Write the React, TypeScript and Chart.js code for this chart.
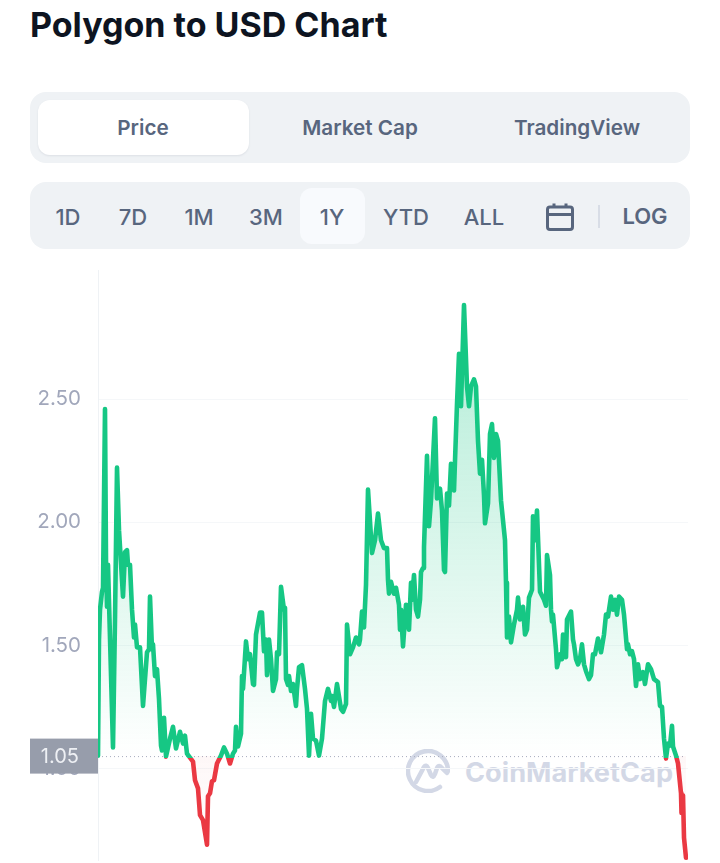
import React, { useEffect, useRef } from "react";
import { Chart, registerables } from "chart.js";

Chart.register(...registerables);

const TITLE = "Polygon to USD Chart";
const VIEW_TABS = ["Price", "Market Cap", "TradingView"];
const RANGE_TABS = ["1D", "7D", "1M", "3M", "1Y", "YTD", "ALL"];
const TICK_VALUES = [1, 1.5, 2, 2.5];
const BASE_PRICE = 1.05;
const WATERMARK = "CoinMarketCap";

// position along the one-year time axis (0–590)
const timeline = [
  0, 1, 2, 4, 5, 7, 8, 9, 10, 15, 17, 19, 21, 25, 27, 29, 30, 32, 34, 36, 37, 39, 42, 45, 49, 51, 52, 54, 55, 57, 59, 61, 63, 64, 66, 68, 72, 75, 78, 82, 85, 87, 89, 92,
  95, 97, 100, 102, 105, 109, 110, 112, 114, 116, 119, 121, 123, 126, 129, 132, 135, 137, 138, 140, 143, 144, 145, 148, 150, 152, 155, 156, 158, 162, 164, 166, 168, 169, 171, 173, 175, 178, 179, 181, 183, 186, 187, 188, 190, 191, 193, 195, 198, 199, 201, 204, 207, 209, 211, 213, 215, 218, 221, 224, 227, 230, 233, 234, 236, 239, 243, 245, 248, 249, 252, 255, 258, 261, 262, 264, 266, 268,
  270, 274, 277, 280, 283, 286, 289, 290, 291, 293, 296, 298, 301, 302, 303, 305, 308, 311, 313, 314, 316, 318, 320, 322, 323, 325, 326, 329, 331, 333, 337, 339, 342, 344, 346, 347, 349, 351, 353, 356, 357, 359, 361, 363, 366, 369, 371, 373, 376, 378, 380, 382, 384, 386, 387, 390, 392, 394, 396, 398, 400, 403, 407, 408, 409, 411, 413, 416, 419, 420, 422, 425, 427, 429, 431, 434, 435, 437, 439, 442, 446, 448, 449, 452, 453, 454, 455, 458, 459, 461, 462, 464, 465, 467, 468, 469, 473, 475, 476, 478, 480, 482, 484, 486, 488, 491, 493, 495, 497, 500, 503, 506, 508, 510, 513, 515, 517, 519, 521, 524, 526, 529, 530, 532, 534, 536, 538, 540, 542, 545, 547, 550, 553, 556, 560, 562, 564, 566, 568, 570, 572, 574, 575, 578, 580, 583, 583.5, 585, 586, 588,
];

const prices = [
  1.052, 1.524, 1.645, 1.718, 1.734, 2.46, 1.847, 1.657, 1.827, 1.085, 1.605, 2.222, 1.968, 1.698, 1.879, 1.887, 1.827, 1.827, 1.645, 1.532, 1.585, 1.492, 1.492, 1.254, 1.472, 1.484, 1.698, 1.484, 1.504, 1.375, 1.403, 1.282, 1.093, 1.073, 1.206, 1.048, 1.121, 1.169, 1.081, 1.149, 1.101, 1.133, 1.06, 1.044,
  1.028, 0.952, 0.919, 0.81, 0.79, 0.69, 0.887, 0.899, 0.948, 0.952, 1.02, 1.036, 1.052, 1.085, 1.06, 1.02, 1.06, 1.073, 1.169, 1.089, 1.141, 1.375, 1.323, 1.516, 1.444, 1.464, 1.343, 1.339, 1.544, 1.633, 1.633, 1.476, 1.524, 1.379, 1.524, 1.444, 1.315, 1.363, 1.472, 1.464, 1.738, 1.645, 1.653, 1.363, 1.339, 1.375, 1.315, 1.343, 1.254, 1.323, 1.411, 1.419, 1.323, 1.242, 1.052, 1.222, 1.121, 1.113, 1.052, 1.121, 1.274, 1.323, 1.274, 1.294, 1.25, 1.343, 1.242, 1.23, 1.262, 1.585, 1.464, 1.492, 1.532, 1.504, 1.524, 1.637, 1.573, 1.746,
  2.133, 1.875, 1.927, 2.036, 1.927, 1.895, 1.895, 1.766, 1.71, 1.758, 1.71, 1.734, 1.665, 1.564, 1.645, 1.496, 1.665, 1.564, 1.754, 1.685, 1.786, 1.645, 1.617, 1.685, 1.798, 1.814, 1.899, 2.27, 1.984, 2.089, 2.423, 2.097, 2.137, 2.048, 1.806, 1.798, 2.117, 2.068, 2.238, 2.129, 2.25, 2.48, 2.685, 2.472, 2.883, 2.552, 2.472, 2.552, 2.581, 2.552, 2.331, 2.198, 2.254, 2.109, 1.996, 2.077, 2.359, 2.399, 2.262, 2.359, 2.331, 2.089, 1.927, 1.754, 1.532, 1.617, 1.512, 1.585, 1.645, 1.694, 1.605, 1.657, 1.544, 1.564, 1.694, 1.726, 2.024, 1.927, 2.048, 1.718, 1.685, 1.661, 1.867, 1.786, 1.645, 1.597, 1.625, 1.484, 1.411, 1.444, 1.464, 1.444, 1.544, 1.464, 1.452, 1.605, 1.637, 1.524, 1.504, 1.444, 1.423, 1.444, 1.504, 1.423, 1.395, 1.363, 1.379, 1.464, 1.464, 1.528, 1.472, 1.544, 1.625, 1.617, 1.698, 1.645, 1.685, 1.625, 1.698, 1.685, 1.625, 1.484, 1.504, 1.464, 1.476, 1.444, 1.335, 1.423, 1.363, 1.391, 1.343, 1.423, 1.403, 1.363, 1.351, 1.254, 1.25, 1.121, 1.04, 1.101, 1.093, 1.173, 1.089, 1.052, 1.02, 0.899, 0.819, 0.891, 0.718, 0.637,
];

const GREEN = "#16c784";
const RED = "#ea3943";
const TAB_CENTERS = [68, 133, 199, 266, 332, 406, 484];
const VIEW_CENTERS = [143, 360, 577];

const overlays = {
  id: "baseOverlays",
  beforeDatasetsDraw(chart: any) {
    const { ctx, scales, chartArea } = chart;
    const y = scales.y.getPixelForValue(BASE_PRICE);
    ctx.save();
    ctx.strokeStyle = "#a6acbd";
    ctx.lineWidth = 1;
    ctx.setLineDash([1, 3]);
    ctx.beginPath();
    ctx.moveTo(chartArea.left, y + 0.5);
    ctx.lineTo(chartArea.right - 3, y + 0.5);
    ctx.stroke();
    ctx.restore();
  },
  afterDraw(chart: any) {
    const { ctx, scales, chartArea } = chart;
    const y = scales.y.getPixelForValue(BASE_PRICE);
    ctx.save();
    ctx.fillStyle = "#979dab";
    ctx.fillRect(30, y - 17.5, chartArea.left - 30, 35);
    ctx.fillStyle = "#eef0f4";
    ctx.font = "400 20px Inter";
    ctx.textAlign = "right";
    ctx.textBaseline = "middle";
    ctx.fillText(BASE_PRICE.toFixed(2), chartArea.left - 19, y + 0.5);
    ctx.restore();
  },
};

export default function App() {
  const ref = useRef<HTMLCanvasElement>(null);

  useEffect(() => {
    const chart = new Chart(ref.current as HTMLCanvasElement, {
      type: "line",
      data: {
        datasets: [
          {
            data: timeline.map((x, i) => ({ x, y: prices[i] })),
            borderColor: GREEN,
            borderWidth: 4.6,
            borderJoinStyle: "round",
            borderCapStyle: "round",
            pointRadius: 0,
            tension: 0,
          },
        ],
      },
      options: {
        animation: false,
        responsive: false,
        layout: { padding: { right: 32, left: 0, top: 0, bottom: 0 } },
        plugins: { legend: { display: false }, tooltip: { enabled: false } },
        scales: {
          x: { type: "linear", min: 0, max: 590, display: false },
          y: {
            min: 0.625,
            max: 3.024,
            afterFit(scale: any) {
              scale.width = 98;
              scale.paddingTop = 0;
              scale.paddingBottom = 0;
            },
            afterBuildTicks(scale: any) {
              scale.ticks = TICK_VALUES.map((value) => ({ value }));
            },
            border: { color: "#eff2f5", width: 1 },
            grid: { color: "#f5f7f9", lineWidth: 1, drawTicks: false },
            ticks: {
              padding: 17,
              color: "#a1a7bb",
              font: { family: "Inter", size: 20.5, weight: "400" },
              callback: (v: any) => Number(v).toFixed(2),
            },
          },
        },
      },
      plugins: [overlays],
    } as any);

    const c = chart.ctx;
    const ys = chart.scales.y;
    const top = ys.getPixelForValue(2.9);
    const bottom = ys.bottom;
    const base = ys.getPixelForValue(BASE_PRICE);
    const stop = (base - top) / (bottom - top);

    const stroke = c.createLinearGradient(0, top, 0, bottom);
    stroke.addColorStop(0, GREEN);
    stroke.addColorStop(stop, GREEN);
    stroke.addColorStop(stop, RED);
    stroke.addColorStop(1, RED);

    const above = c.createLinearGradient(0, top, 0, base);
    above.addColorStop(0, "rgba(22,199,132,0.34)");
    above.addColorStop(1, "rgba(22,199,132,0)");

    const below = c.createLinearGradient(0, base, 0, bottom);
    below.addColorStop(0, "rgba(234,57,67,0.04)");
    below.addColorStop(1, "rgba(234,57,67,0)");

    const ds: any = chart.data.datasets[0];
    ds.borderColor = stroke;
    ds.fill = { target: { value: BASE_PRICE }, above, below };
    chart.update();

    return () => chart.destroy();
  }, []);

  const abs = (o: React.CSSProperties): React.CSSProperties => ({ position: "absolute", ...o });
  const label = (center: number, y: number, text: string, size: number, weight: number) => (
    <div
      key={text}
      style={abs({
        left: center - 80,
        width: 160,
        top: y - 20,
        height: 40,
        lineHeight: "40px",
        textAlign: "center",
        color: "#58667e",
        fontSize: size,
        fontWeight: weight,
      })}
    >
      {text}
    </div>
  );

  return (
    <div style={{ position: "relative", width: 720, height: 863, overflow: "hidden", fontFamily: "Inter", background: "#fff" }}>
      <style>{"html,body{margin:0;padding:0;overflow:hidden;background:#fff}"}</style>
      <div style={abs({ left: 30, top: 5, lineHeight: "40px", fontSize: 34, fontWeight: 700, color: "#0d1421", whiteSpace: "nowrap" })}>{TITLE}</div>

      <div style={abs({ left: 30, top: 92, width: 660, height: 71, background: "#eff2f5", borderRadius: 16 })} />
      <div style={abs({ left: 38, top: 100, width: 211, height: 55, background: "#fff", borderRadius: 12, boxShadow: "0 1px 2px rgba(88,102,126,0.12)" })} />
      {VIEW_TABS.map((t, i) => label(VIEW_CENTERS[i], 128, t, 20.7, 600))}

      <div style={abs({ left: 30, top: 182, width: 660, height: 67, background: "#eff2f5", borderRadius: 16 })} />
      <div style={abs({ left: 300, top: 188, width: 65, height: 56, background: "#f8fafd", borderRadius: 12 })} />
      {RANGE_TABS.map((t, i) => label(TAB_CENTERS[i], 217, t, 22, 500))}
      <svg style={abs({ left: 544, top: 201 })} width="32" height="32" viewBox="0 0 32 32" fill="none" stroke="#58667e" strokeWidth="3">
        <rect x="3.5" y="6" width="25" height="22.5" rx="2.5" />
        <path d="M3.5 13.5H28.5M10 2.5V7M22 2.5V7" />
      </svg>
      <div style={abs({ left: 598, top: 205, width: 2, height: 23, background: "#d8dde6" })} />
      {label(645, 216, "LOG", 22, 600)}

      <svg style={abs({ left: 406, top: 749 })} width="44" height="44" viewBox="0 0 44 44" fill="none" stroke="#d3d8e6" strokeWidth="4.5" strokeLinecap="round">
        <path d="M34 38 A20 20 0 1 1 42 22" />
        <path d="M10 33 L18 18 Q20 15 22 19 L25 26 Q27 30 29 25 L31 19 Q33 15 36 19 L41 24" />
      </svg>
      <div style={abs({ left: 465, top: 753, lineHeight: "40px", fontSize: 27.2, fontWeight: 700, color: "#d3d8e6", whiteSpace: "nowrap" })}>{WATERMARK}</div>

      <canvas ref={ref} width={720} height={595} style={abs({ left: 0, top: 268, width: 720, height: 595 })} />
    </div>
  );
}
